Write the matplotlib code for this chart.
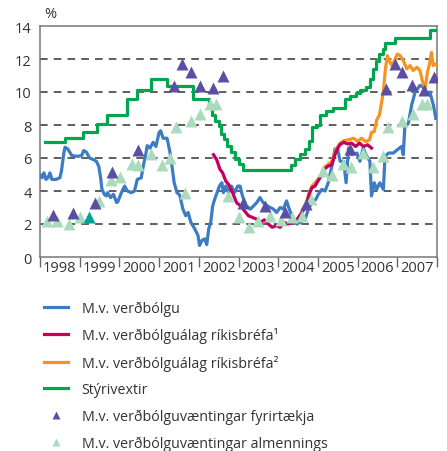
import numpy as np
import matplotlib
matplotlib.use('Agg')
import matplotlib.pyplot as plt
from matplotlib.lines import Line2D

plt.rcParams['font.family'] = ['Open Sans', 'DejaVu Sans']

# Raunvextir m.v. verðbólgu (blá lína)
blue_t = [1998.0, 1998.05, 1998.1, 1998.15, 1998.2, 1998.25, 1998.3, 1998.4, 1998.5, 1998.54,
          1998.6, 1998.63, 1998.7, 1998.8, 1998.95, 1999.05, 1999.1, 1999.17, 1999.25, 1999.35,
          1999.42, 1999.48, 1999.53, 1999.56, 1999.62, 1999.67, 1999.7, 1999.78, 1999.85, 1999.93,
          1999.96, 2000.05, 2000.13, 2000.2, 2000.3, 2000.38, 2000.45, 2000.55, 2000.6, 2000.67,
          2000.7, 2000.77, 2000.85, 2000.92, 2001.0, 2001.04, 2001.1, 2001.2, 2001.27, 2001.33,
          2001.38, 2001.45, 2001.52, 2001.6, 2001.67, 2001.73, 2001.8, 2001.9, 2001.98, 2002.02,
          2002.08, 2002.15, 2002.2, 2002.25, 2002.3, 2002.35, 2002.4, 2002.46, 2002.52, 2002.58,
          2002.62, 2002.68, 2002.75, 2002.82, 2002.9, 2002.98, 2003.04, 2003.1, 2003.2, 2003.3,
          2003.38, 2003.46, 2003.54, 2003.62, 2003.72, 2003.8, 2003.88, 2003.96, 2004.05, 2004.13,
          2004.21, 2004.28, 2004.38, 2004.47, 2004.55, 2004.68, 2004.76, 2004.85, 2004.95, 2005.01,
          2005.1, 2005.18, 2005.26, 2005.35, 2005.43, 2005.5, 2005.56, 2005.65, 2005.71, 2005.77,
          2005.85, 2005.98, 2006.06, 2006.14, 2006.22, 2006.31, 2006.35, 2006.42, 2006.48, 2006.56,
          2006.65, 2006.69, 2006.78, 2006.9, 2007.0, 2007.11, 2007.15, 2007.19, 2007.28, 2007.36,
          2007.45, 2007.57, 2007.65, 2007.74, 2007.82, 2007.91, 2007.97]
blue_v = [5.0, 4.8, 5.1, 4.7, 4.8, 5.1, 4.7, 4.7, 4.8, 5.2,
          6.3, 6.65, 6.55, 6.15, 6.1, 6.15, 6.45, 6.35, 6.0, 5.9,
          5.8, 5.5, 4.75, 4.1, 3.8, 3.7, 3.9, 3.6, 3.8, 3.3,
          3.35, 3.9, 4.3, 4.0, 3.9, 4.0, 4.7, 4.8, 5.5, 6.3,
          6.75, 6.6, 6.95, 6.7, 7.55, 7.65, 7.2, 7.2, 6.4, 5.4,
          4.5, 3.9, 3.75, 2.9, 2.5, 2.7, 2.1, 1.7, 1.3, 0.7,
          1.0, 1.1, 0.75, 1.7, 2.1, 3.1, 3.5, 3.9, 4.3, 4.5,
          3.9, 4.3, 3.9, 4.3, 3.9, 4.3, 4.3, 3.7, 3.1, 2.9,
          3.1, 3.3, 3.6, 3.3, 3.1, 3.0, 2.9, 2.7, 3.0, 2.9,
          3.4, 2.9, 2.3, 2.0, 2.1, 2.3, 2.9, 3.3, 3.5, 3.8,
          4.1, 4.0, 4.5, 5.5, 6.55, 6.5, 5.8, 5.8, 4.5, 6.6,
          6.2, 6.3, 5.8, 6.6, 6.15, 5.8, 3.7, 4.5, 4.1, 4.5,
          4.1, 6.1, 6.3, 6.3, 6.5, 6.7, 6.2, 7.9, 8.1, 9.2,
          10.0, 10.4, 10.3, 9.9, 10.0, 9.2, 8.4]

# M.v. verðbólguálag ríkisbréfa 1
red_t = [2002.37, 2002.42, 2002.45, 2002.53, 2002.6, 2002.68, 2002.75, 2002.85, 2002.95, 2003.05,
         2003.15, 2003.25, 2003.35, 2003.45, 2003.55, 2003.65, 2003.75, 2003.85, 2003.95, 2004.05,
         2004.15, 2004.25, 2004.35, 2004.45, 2004.6, 2004.7, 2004.78, 2004.85, 2004.93, 2005.0,
         2005.08, 2005.15, 2005.25, 2005.35, 2005.45, 2005.55, 2005.65, 2005.75, 2005.85, 2005.95,
         2006.05, 2006.15, 2006.25, 2006.35]
red_v = [6.2, 6.0, 5.9, 5.33, 5.1, 4.6, 4.4, 3.9, 3.3, 3.1,
         2.8, 2.5, 2.4, 2.3, 2.1, 2.25, 2.0, 1.8, 1.9, 1.8,
         2.1, 2.0, 2.1, 2.2, 2.7, 3.1, 3.8, 4.2, 4.3, 4.6,
         4.9, 5.3, 5.5, 5.6, 6.35, 6.8, 6.95, 6.85, 6.9, 6.7,
         6.9, 6.7, 6.8, 6.6]

# M.v. verðbólguálag ríkisbréfa 2
orange_t = [2004.6, 2004.7, 2004.78, 2004.85, 2004.93, 2005.0, 2005.08, 2005.15, 2005.25, 2005.35,
            2005.45, 2005.56, 2005.65, 2005.77, 2005.9, 2006.0, 2006.1, 2006.2, 2006.3, 2006.35,
            2006.42, 2006.48, 2006.55, 2006.62, 2006.66, 2006.7, 2006.75, 2006.8, 2006.86, 2006.93,
            2007.0, 2007.07, 2007.15, 2007.24, 2007.32, 2007.4, 2007.49, 2007.57, 2007.65, 2007.7,
            2007.76, 2007.82, 2007.86, 2007.9, 2007.95, 2008.0]
orange_v = [2.8, 3.2, 3.9, 4.3, 4.5, 4.7, 5.0, 5.4, 5.6, 5.8,
            6.5, 6.9, 7.05, 7.1, 7.2, 7.0, 7.2, 7.0, 7.1, 7.55,
            7.6, 8.3, 8.6, 9.6, 10.3, 11.4, 12.2, 11.9, 11.6, 11.9,
            12.3, 12.2, 11.9, 11.4, 11.6, 11.3, 11.5, 11.3, 10.5, 10.2,
            11.2, 11.8, 12.4, 11.6, 11.7, 11.6]

# Stýrivextir (þrepafall)
green_t = [1998.12, 1998.63, 1999.08, 1999.43, 1999.68, 2000.18, 2000.44, 2000.8, 2001.2, 2001.85,
           2002.25, 2002.33, 2002.42, 2002.5, 2002.56, 2002.63, 2002.71, 2002.8, 2002.9, 2003.02,
           2003.12, 2004.33, 2004.42, 2004.55, 2004.68, 2004.77, 2004.85, 2004.97, 2005.06, 2005.2,
           2005.38, 2005.68, 2005.82, 2005.95, 2006.07, 2006.2, 2006.3, 2006.38, 2006.46, 2006.54,
           2006.63, 2006.68, 2006.95, 2007.82, 2007.97]
green_v = [7.0, 7.2, 7.6, 8.05, 8.6, 9.6, 10.1, 10.8, 10.35, 9.6,
           9.2, 8.6, 8.25, 7.95, 7.45, 7.15, 6.75, 6.35, 5.95, 5.65,
           5.25, 5.6, 5.95, 6.25, 6.55, 7.05, 7.85, 8.0, 8.6, 8.85,
           9.05, 9.55, 9.75, 9.95, 10.1, 10.3, 10.8, 11.4, 11.9, 12.3,
           12.6, 13.0, 13.25, 13.75, 13.75]

# M.v. verðbólguvæntingar fyrirtækja
firm_t = [1998.34, 1998.82, 1999.39, 1999.82, 2000.48, 2001.38, 2001.57, 2001.8, 2002.04, 2002.35,
          2002.62, 2003.12, 2003.67, 2004.17, 2004.7, 2005.8, 2006.72, 2006.93, 2007.13, 2007.38,
          2007.68, 2007.93]
firm_v = [2.55, 2.65, 3.25, 5.15, 6.5, 10.35, 11.7, 11.2, 10.35, 10.25,
          10.95, 3.25, 3.1, 2.7, 3.2, 6.55, 10.2, 11.7, 11.2, 10.4,
          10.1, 10.9]

# M.v. verðbólguvæntingar almennings
hh_t = [1998.17, 1998.44, 1998.73, 1999.01, 1999.49, 1999.8, 2000.02, 2000.31, 2000.46, 2000.79,
        2001.07, 2001.27, 2001.43, 2001.65, 2001.8, 2002.03, 2002.28, 2002.43, 2002.74, 2003.0,
        2003.27, 2003.5, 2003.79, 2004.07, 2004.34, 2004.59, 2004.83, 2005.14, 2005.35, 2005.64,
        2005.83, 2006.14, 2006.4, 2006.65, 2006.77, 2007.13, 2007.39, 2007.61, 2007.74]
hh_v = [2.2, 2.2, 2.0, 2.4, 3.4, 4.65, 4.85, 5.65, 5.55, 6.25,
        5.55, 6.0, 7.85, 3.9, 8.25, 8.65, 9.25, 9.25, 3.7, 2.4,
        1.8, 2.2, 2.5, 2.25, 2.45, 2.5, 3.5, 5.2, 4.95, 5.65,
        5.45, 6.3, 5.45, 6.1, 7.85, 8.25, 8.65, 9.3, 9.25]

# einn punktur þar sem báðar kannanir falla saman
both_t = [1999.23]
both_v = [2.45]

years = list(range(1998, 2008))

c_blue = '#3b7cc4'
c_red = '#c4005e'
c_orange = '#f7931e'
c_green = '#00a550'
c_purple = '#5b4fa3'
c_light = '#a9dbbc'
c_teal = '#00a39b'

fig = plt.figure(figsize=(4.47, 4.52), dpi=100)
ax = fig.add_axes([40/447, 194/452, 397/447, 231/452])

for y in range(2, 13, 2):
    ax.axhline(y, color='#333333', lw=1.1, ls=(0, (5, 4)), zorder=1)

lw = 2.3
ax.plot(blue_t, blue_v, color=c_blue, lw=lw, zorder=3)
ax.plot(red_t, red_v, color=c_red, lw=lw, zorder=4)
ax.plot(orange_t, orange_v, color=c_orange, lw=lw, zorder=3)
ax.step(green_t, green_v, where='post', color=c_green, lw=lw, zorder=3)
ax.plot(hh_t, hh_v, ls='none', marker='^', ms=8, color=c_light, mec='none', zorder=5)
ax.plot(firm_t, firm_v, ls='none', marker='^', ms=8, color=c_purple, mec='none', zorder=5)
ax.plot(both_t, both_v, ls='none', marker='^', ms=8, color=c_teal, mec='none', zorder=5)

ax.set_xlim(1998, 2008)
ax.set_ylim(0, 14)
ax.set_yticks(range(0, 15, 2))
ax.set_xticks(list(range(1998, 2009)))
ax.set_xticklabels([])
ax.set_xticks([y + 0.5 for y in years], minor=True)
ax.set_xticklabels([str(y) for y in years], minor=True)
ax.tick_params(axis='x', which='major', direction='out', length=7, width=1, color='#666666')
ax.tick_params(axis='x', which='minor', length=0, pad=2, labelsize=10.5, labelcolor='#333333')
ax.tick_params(axis='y', length=0, pad=6, labelsize=10.5, labelcolor='#333333')
for s in ax.spines.values():
    s.set_color('#777777')
    s.set_linewidth(1.1)

fig.text(50/447, 1 - 15/452, '%', fontsize=10.5, color='#333333', ha='center', va='center')

handles = [
    Line2D([], [], color=c_blue, lw=lw),
    Line2D([], [], color=c_red, lw=lw),
    Line2D([], [], color=c_orange, lw=lw),
    Line2D([], [], color=c_green, lw=lw),
    Line2D([], [], ls='none', marker='^', ms=6, color=c_purple, mec='none'),
    Line2D([], [], ls='none', marker='^', ms=6, color=c_light, mec='none'),
]
labels = ['M.v. verðbólgu', 'M.v. verðbólguálag ríkisbréfa¹', 'M.v. verðbólguálag ríkisbréfa²',
          'Stýrivextir', 'M.v. verðbólguvæntingar fyrirtækja', 'M.v. verðbólguvæntingar almennings']
fig.legend(handles, labels, loc='upper left', bbox_to_anchor=(38/447, 1 - 296/452),
           frameon=False, fontsize=10.3, labelspacing=0.8, handlelength=1.7,
           handletextpad=0.95, borderaxespad=0, labelcolor='#333333')

fig.savefig('out.png', dpi=100)
